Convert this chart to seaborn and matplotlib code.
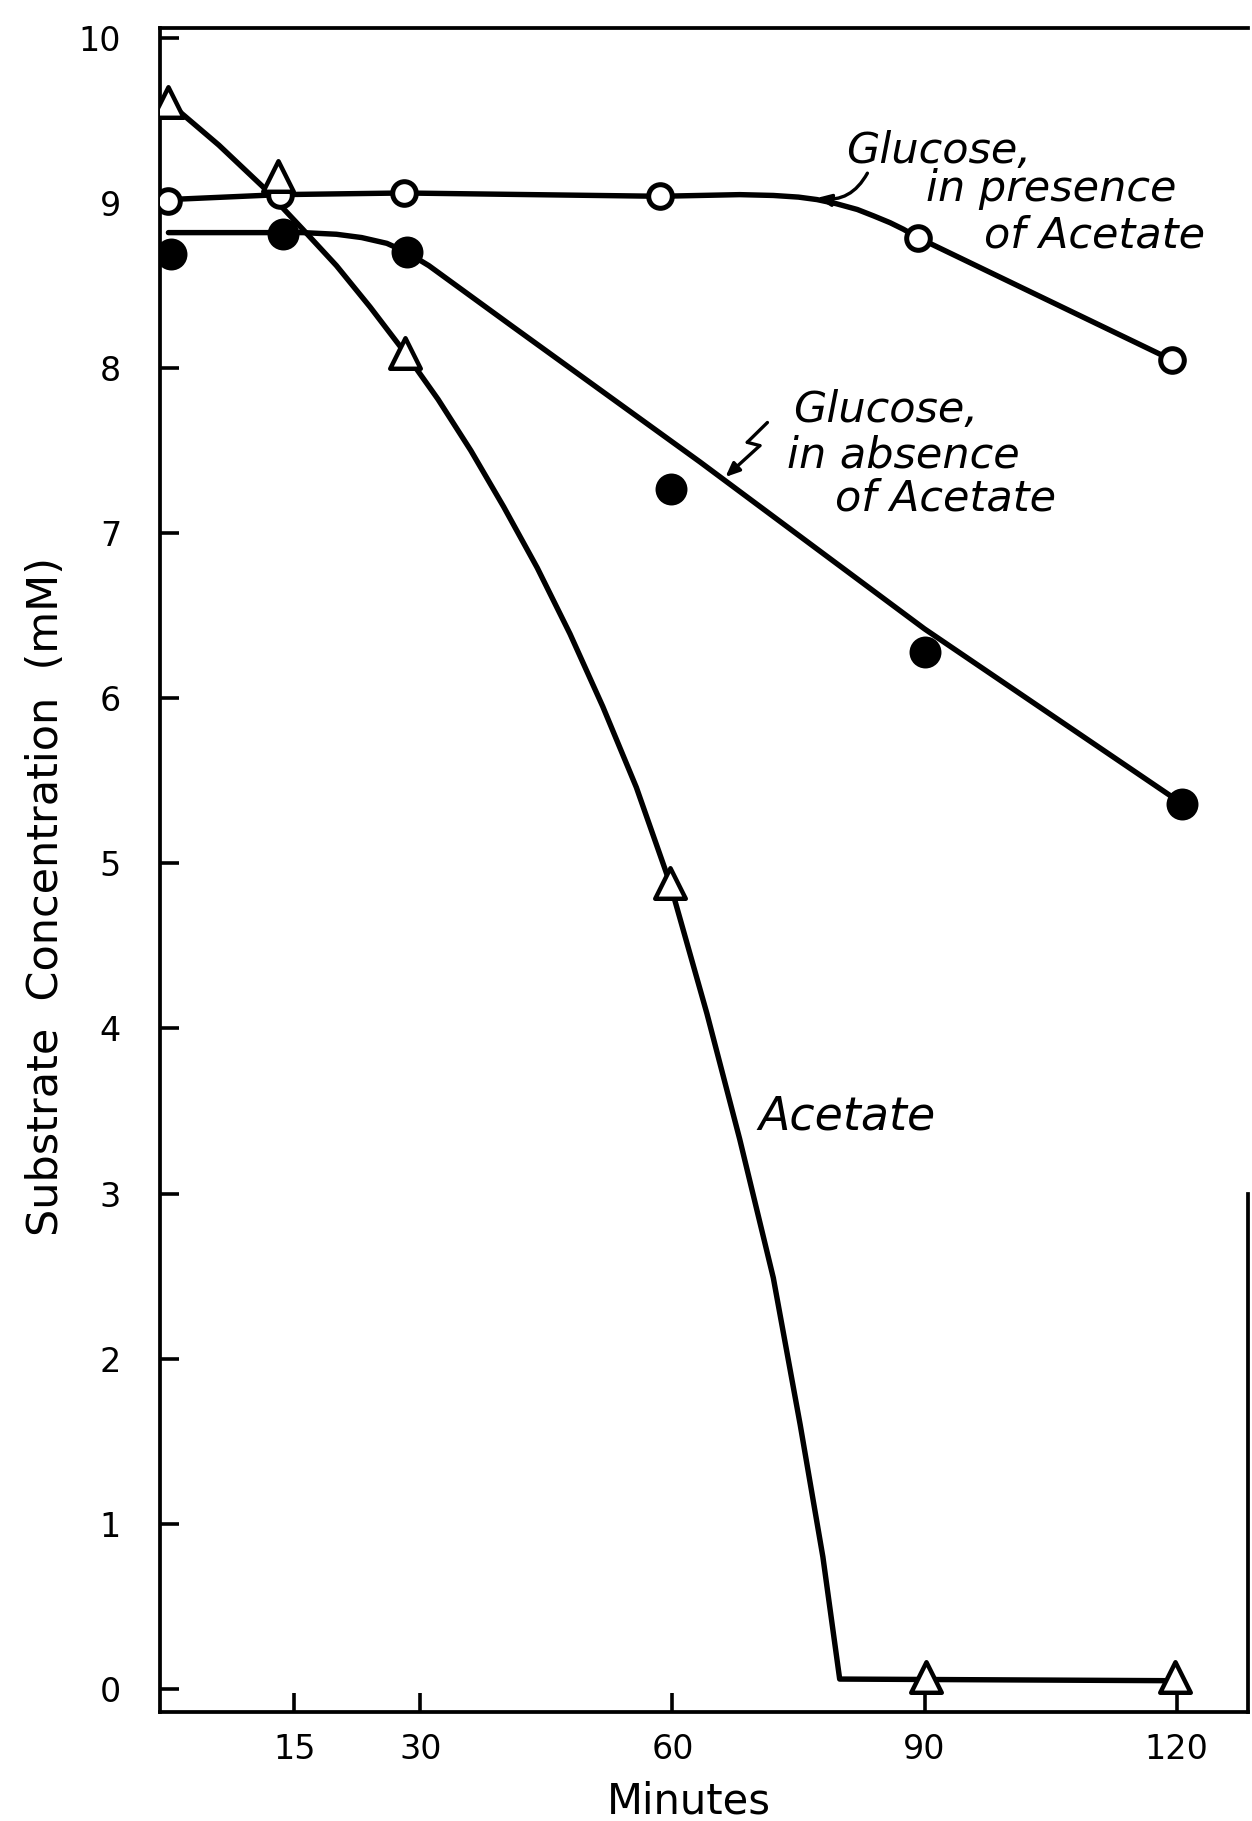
import matplotlib
matplotlib.use("Agg")
import matplotlib.pyplot as plt
import seaborn as sns

# Measured substrate concentrations (minutes, mM)
gluc_ace_t = [0, 13.3, 28.0, 58.5, 89.2, 119.4]
gluc_ace_c = [9.01, 9.05, 9.06, 9.04, 8.79, 8.05]

gluc_noace_t = [0.3, 13.6, 28.4, 59.8, 90.0, 120.7]
gluc_noace_c = [8.69, 8.81, 8.70, 7.27, 6.28, 5.36]

acetate_t = [0, 13.0, 28.2, 59.7, 90.2, 119.8]
acetate_c = [9.61, 9.16, 8.09, 4.88, 0.07, 0.07]

# Hand-drawn smooth curves through the measurements
gluc_ace_fit_t = [0, 13.3, 28.0, 58.5, 68.0, 72.0, 75.0, 77.2, 79.5, 82.0,
                  84.0, 85.9, 87.5, 89.2, 119.4]
gluc_ace_fit_c = [9.02, 9.05, 9.06, 9.04, 9.05, 9.045, 9.035, 9.02, 8.995,
                  8.96, 8.92, 8.88, 8.84, 8.79, 8.05]

gluc_noace_fit_t = [0, 10.0, 16.0, 20.0, 23.0, 26.0, 28.4, 31.0, 41.0, 63.3,
                    90.0, 120.7]
gluc_noace_fit_c = [8.82, 8.82, 8.82, 8.81, 8.79, 8.755, 8.70, 8.62, 8.25,
                    7.43, 6.42, 5.36]

acetate_fit_t = [0, 6.0, 11.2, 16.0, 20.0, 24.0, 28.2, 32.1, 36.0, 39.9, 43.9,
                 47.8, 51.7, 55.7, 59.7, 64.1, 68.0, 72.0, 75.2, 77.9, 79.9,
                 119.8]
acetate_fit_c = [9.61, 9.35, 9.10, 8.84, 8.62, 8.37, 8.09, 7.81, 7.50, 7.16,
                 6.79, 6.39, 5.95, 5.46, 4.88, 4.09, 3.33, 2.49, 1.60, 0.80,
                 0.06, 0.05]

x_ticks = [15, 30, 60, 90, 120]
x_tick_labels = ["15", "30", "60", "90", "120"]
y_ticks = list(range(0, 11))
y_tick_labels = [str(v) for v in y_ticks]

sns.set_theme(style="white")
plt.rcParams["font.family"] = ["DejaVu Sans"]
plt.rcParams["axes.edgecolor"] = "black"

fig = plt.figure(figsize=(12.52, 18.21), dpi=100)
ax = fig.add_axes([0.1278, 0.0599, 0.869, 0.9248])

line_kw = dict(color="black", linewidth=3.9, sort=False, estimator=None,
               ax=ax, zorder=2, legend=False)
sns.lineplot(x=gluc_ace_fit_t, y=gluc_ace_fit_c, **line_kw)
sns.lineplot(x=gluc_noace_fit_t, y=gluc_noace_fit_c, **line_kw)
sns.lineplot(x=acetate_fit_t, y=acetate_fit_c, **line_kw)
for ln in ax.lines:
    ln.set_solid_capstyle("round")
    ln.set_solid_joinstyle("round")

# Open circles: glucose with acetate present
sns.scatterplot(x=gluc_ace_t, y=gluc_ace_c, ax=ax, marker="o", s=17 ** 2,
                color="white", edgecolor="black", linewidth=3.6, zorder=4)
# Filled circles: glucose without acetate
sns.scatterplot(x=gluc_noace_t, y=gluc_noace_c, ax=ax, marker="o", s=23 ** 2,
                color="black", edgecolor="black", linewidth=0, zorder=4)
# Open triangles: acetate
sns.scatterplot(x=acetate_t, y=acetate_c, ax=ax, marker="^", s=22 ** 2,
                color="white", edgecolor="black", linewidth=3.2, zorder=4)

ax.set_xlim(-1.0, 128.5)
ax.set_ylim(-0.139, 10.06)
ax.set_xticks(x_ticks)
ax.set_xticklabels(x_tick_labels)
ax.set_yticks(y_ticks)
ax.set_yticklabels(y_tick_labels)

ax.tick_params(axis="both", direction="in", length=14, width=2.6,
               colors="black", labelsize=24)
ax.tick_params(axis="x", bottom=True, pad=15)
ax.tick_params(axis="y", left=True, pad=28)

for side in ["left", "bottom", "top", "right"]:
    ax.spines[side].set_linewidth(2.7)
    ax.spines[side].set_color("black")
ax.spines["right"].set_bounds(-0.139, 3.0)

ax.set_xlabel("Minutes", fontsize=30, va="center", color="black")
ax.xaxis.set_label_coords(0.486, -0.053)
ax.set_ylabel("Substrate  Concentration  (mM)", fontsize=31, va="center",
              color="black")
ax.yaxis.set_label_coords(-0.105, 0.484)

txt_kw = dict(fontsize=31, style="italic", ha="left", va="baseline",
              color="black")
ax.text(80.6, 9.24, "Glucose,", **txt_kw)
ax.text(90.2, 9.01, "in presence", **txt_kw)
ax.text(97.1, 8.73, "of Acetate", **txt_kw)

ax.text(74.4, 7.67, "Glucose,", **txt_kw)
ax.text(73.6, 7.40, "in absence", **txt_kw)
ax.text(79.3, 7.14, "of Acetate", **txt_kw)

ax.text(70.2, 3.39, "Acetate", fontsize=33, style="italic", ha="left",
        va="baseline", color="black")

arrow_kw = dict(arrowstyle="-|>,head_length=0.7,head_width=0.3",
                color="black", lw=2.4, shrinkA=0, shrinkB=0)
ax.annotate("", xy=(77.2, 9.03), xytext=(83.2, 9.18),
            arrowprops=dict(connectionstyle="arc3,rad=-0.35", **arrow_kw))

# lightning-bolt pointer to the glucose (no acetate) curve
seg_kw = dict(arrowstyle="-", color="black", lw=2.4, shrinkA=0, shrinkB=0)
ax.annotate("", xy=(68.9, 7.55), xytext=(71.3, 7.67), arrowprops=seg_kw)
ax.annotate("", xy=(70.4, 7.53), xytext=(68.9, 7.55), arrowprops=seg_kw)
ax.annotate("", xy=(66.3, 7.34), xytext=(70.4, 7.53),
            arrowprops=dict(connectionstyle="arc3,rad=0", **arrow_kw))

fig.savefig("out.png", dpi=100, facecolor="white")
